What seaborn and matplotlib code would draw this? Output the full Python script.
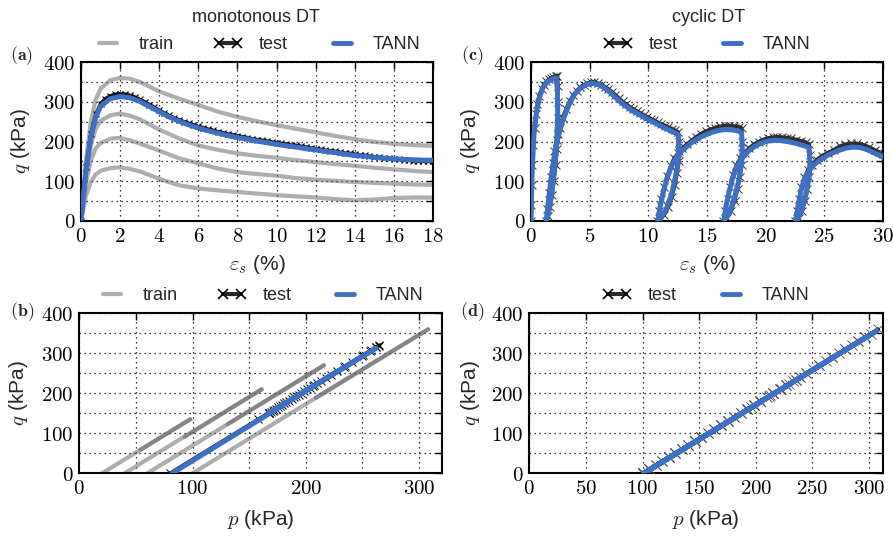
import matplotlib
matplotlib.use("Agg")
import matplotlib.pyplot as plt
from matplotlib.lines import Line2D
from matplotlib.ticker import MultipleLocator, FuncFormatter
import seaborn as sns

sns.set_theme(style="white")
plt.rcParams["font.family"] = ["Liberation Sans", "DejaVu Sans"]
plt.rcParams["mathtext.fontset"] = "cm"

# ---------------------------------------------------------------- data
# (a) monotonous drained tests: q (kPa) against shear strain (%)
eps_train = [0, 0.25, 0.5, 0.75, 1, 1.5, 2, 2.5, 3, 4, 5, 6, 7, 8, 9, 10,
             11, 12, 13, 14, 15, 16, 17, 18]
q_train_1 = [0, 150, 250, 305, 333, 354, 360, 358, 350, 326, 308, 292, 275,
             262, 251, 241, 232, 223, 214, 206, 199, 194, 191, 189]
q_train_2 = [0, 118, 190, 232, 252, 266, 270, 265, 256, 230, 208, 190, 179,
             170, 164, 159, 153, 148, 143, 139, 134, 130, 126, 123]
q_train_3 = [0, 95, 152, 182, 196, 207, 209, 203, 195, 177, 158, 145, 132,
             123, 118, 114, 108, 104, 101, 98, 96, 94, 92, 91]
q_train_4 = [0, 62, 98, 117, 126, 133, 135, 131, 125, 106, 90, 82, 77, 73,
             69, 65, 62, 59, 55, 52, 54, 58, 59, 59]

eps_test = [0, 0.25, 0.5, 0.75, 1.0, 1.25, 1.5, 1.75, 2.0, 2.25, 2.5, 2.75,
            3.0, 3.25, 3.5, 3.75, 4.0, 4.25, 4.5, 4.75, 5.0, 5.25, 5.5,
            5.75, 6.0, 6.25, 6.5, 6.75, 7.0, 7.25, 7.5, 7.75, 8.0, 8.25,
            8.5, 8.75, 9.0, 9.25, 9.5, 9.75, 10.0, 10.25, 10.5, 10.75,
            11.0, 11.25, 11.5, 11.75, 12.0, 12.25, 12.5, 12.75, 13.0,
            13.25, 13.5, 13.75, 14.0, 14.25, 14.5, 14.75, 15.0, 15.25,
            15.5, 15.75, 16.0, 16.25, 16.5, 16.75, 17.0, 17.25, 17.5,
            17.75, 18.0]
q_test = [0, 135, 220, 268, 295, 308, 315, 319, 320, 319, 316, 312, 306,
          300, 293, 286, 279, 272, 266, 260, 255, 250, 246, 242, 238, 235,
          231, 228, 225, 222, 219, 217, 214, 212, 210, 207, 205, 203, 201,
          199, 197, 195, 193, 191, 190, 188, 186, 184, 182, 180, 178, 177,
          175, 173, 171, 170, 168, 166, 165, 163, 162, 160, 159, 158, 157,
          155, 154, 153, 152, 152, 151, 151, 151]

eps_tann = [0, 0.25, 0.5, 0.75, 1.0, 1.5, 2.0, 2.5, 3.0, 3.5, 4.0, 4.5, 5.0,
            5.5, 6.0, 6.5, 7.0, 7.5, 8.0, 8.5, 9.0, 9.5, 10.0, 10.5, 11.0,
            11.5, 12.0, 12.5, 13.0, 13.5, 14.0, 14.5, 15.0, 15.5, 16.0,
            16.5, 17.0, 17.5, 18.0]
q_tann = [0, 125, 210, 260, 288, 308, 313, 310, 301, 288, 275, 262, 251,
          242, 234, 227, 221, 215, 210, 206, 201, 197, 193, 189, 186, 182,
          179, 175, 172, 168, 165, 163, 160, 158, 156, 155, 154, 153, 153]

# (b) stress paths p-q (kPa): start, peak, residual of each training test
p_train_paths = [[100, 308, 209], [60, 216, 131], [40, 161, 93], [20, 98, 54]]
q_train_paths = [[0, 360, 189], [0, 270, 123], [0, 210, 91], [0, 135, 59]]

p_test_b = [80, 157.9, 207.0, 234.7, 250.3, 257.8, 261.9, 264.2, 264.8,
            262.4, 256.7, 249.2, 241.1, 233.6, 227.2, 222.0, 217.4, 213.4,
            209.9, 206.4, 203.6, 201.2, 198.4, 196.1, 193.7, 191.4, 189.7,
            187.4, 185.1, 182.8, 181.0, 178.7, 177.0, 175.3, 173.5, 171.8,
            170.6, 168.9, 167.8, 167.2, 167.2]
q_test_b = [0, 135, 220, 268, 295, 308, 315, 319, 320, 316, 306, 293, 279,
            266, 255, 246, 238, 231, 225, 219, 214, 210, 205, 201, 197, 193,
            190, 186, 182, 178, 175, 171, 168, 165, 162, 159, 157, 154, 152,
            151, 151]

p_tann_b = [82, 262, 168]
q_tann_b = [0, 313, 153]

# (c) cyclic drained test: q (kPa) against shear strain (%)
eps_cyc_test = [
    0.00, 0.03, 0.07, 0.12, 0.2, 0.3, 0.42, 0.55, 0.7, 0.9, 1.1, 1.3, 1.5,
    1.7, 1.9, 2.1, 2.25,
    2.3, 2.32, 2.33, 2.3, 2.22, 2.1, 1.95, 1.8, 1.62, 1.45, 1.3,
    1.4, 1.55, 1.7, 1.85, 2.0, 2.2, 2.45, 2.7, 3.0, 3.3, 3.6, 3.9, 4.2, 4.5,
    4.8, 5.1, 5.4, 5.7, 6.0, 6.3, 6.6, 6.9, 7.2, 7.5, 7.8, 8.1, 8.4, 8.7,
    9.0, 9.3, 9.6, 9.9, 10.2, 10.5, 10.8, 11.1, 11.4, 11.7, 12.0, 12.3, 12.55,
    12.62, 12.65, 12.6, 12.45, 12.25, 12.0, 11.7, 11.35, 11.0, 10.75,
    10.9, 11.1, 11.35, 11.6, 11.9, 12.2, 12.55, 12.9, 13.3, 13.7, 14.1, 14.5,
    14.9, 15.3, 15.7, 16.1, 16.5, 16.9, 17.3, 17.7, 17.95,
    18.0, 18.02, 17.95, 17.8, 17.6, 17.35, 17.05, 16.7, 16.4,
    16.55, 16.75, 16.95, 17.2, 17.5, 17.85, 18.2, 18.6, 19.0, 19.4, 19.8,
    20.2, 20.6, 21.0, 21.4, 21.8, 22.2, 22.6, 23.0, 23.4, 23.7,
    23.78, 23.8, 23.7, 23.55, 23.35, 23.1, 22.8, 22.5,
    22.65, 22.85, 23.05, 23.3, 23.6, 23.95, 24.35, 24.8, 25.3, 25.8, 26.3,
    26.8, 27.3, 27.8, 28.3, 28.8, 29.3, 29.7, 30.0]
q_cyc_test = [
    0, 40, 90, 140, 190, 235, 270, 295, 315, 332, 343, 351, 356,
    360, 363, 365, 366,
    340, 300, 260, 220, 180, 140, 100, 65, 35, 12, 0,
    30, 70, 110, 145, 175, 205, 235, 260, 283, 302, 317, 328, 337, 343,
    347, 349, 349, 347, 343, 338, 332, 325, 317, 309, 301, 294, 288, 282,
    277, 272, 267, 262, 257, 253, 248, 244, 240, 236, 232, 228, 224,
    200, 175, 150, 120, 90, 60, 35, 15, 4, 0,
    25, 55, 85, 112, 138, 158, 172, 183, 194, 203, 212, 220,
    226, 231, 235, 238, 240, 240, 239, 237, 234,
    200, 170, 140, 110, 80, 50, 25, 8, 0,
    25, 55, 85, 115, 140, 158, 172, 184, 193, 200, 205,
    209, 211, 212, 211, 210, 208, 205, 202, 198, 194,
    165, 140, 110, 80, 50, 25, 8, 0,
    25, 55, 85, 110, 128, 142, 154, 164, 172, 179, 188,
    193, 195, 195, 192, 186, 179, 173, 168]

eps_cyc_tann = [
    0, 0.05, 0.12, 0.25, 0.45, 0.7, 1.0, 1.4, 1.8, 2.15,
    2.25, 2.27, 2.2, 2.0, 1.75, 1.5, 1.3,
    1.5, 1.75, 2.0, 2.3, 2.7, 3.2, 3.7, 4.2, 4.7, 5.2, 5.7, 6.2, 6.8, 7.4,
    8.0, 8.6, 9.2, 9.8, 10.4, 11.0, 11.6, 12.2, 12.55,
    12.6, 12.55, 12.3, 12.0, 11.6, 11.1, 10.8,
    11.0, 11.3, 11.6, 12.0, 12.5, 13.0, 13.6, 14.2, 14.8, 15.4, 16.0, 16.6,
    17.2, 17.7, 17.95,
    18.0, 17.95, 17.7, 17.3, 16.9, 16.45,
    16.6, 16.9, 17.2, 17.55, 18.0, 18.5, 19.0, 19.6, 20.2, 20.8, 21.4, 22.0,
    22.6, 23.2, 23.7,
    23.78, 23.7, 23.45, 23.1, 22.75, 22.55,
    22.75, 23.0, 23.3, 23.65, 24.1, 24.7, 25.4, 26.1, 26.8, 27.4, 28.0, 28.6,
    29.2, 29.7, 30.0]
q_cyc_tann = [
    0, 70, 140, 215, 270, 310, 335, 350, 357, 360,
    330, 270, 200, 130, 65, 20, 0,
    55, 115, 165, 210, 252, 290, 318, 334, 343, 346, 344, 336, 322, 305,
    290, 278, 268, 258, 249, 240, 231, 223, 217,
    185, 150, 110, 70, 35, 8, 0,
    35, 75, 108, 140, 165, 180, 195, 207, 216, 223, 228, 230,
    229, 226, 222,
    185, 145, 100, 55, 20, 0,
    35, 75, 110, 137, 158, 175, 186, 196, 201, 203, 202, 199,
    195, 190, 185,
    150, 110, 70, 30, 5, 0,
    35, 75, 105, 125, 141, 155, 167, 176, 183, 186, 185, 180,
    172, 165, 160]

# (d) cyclic stress path p-q (kPa)
p_cyc_test = [
    100, 111.5, 123.1, 134.6, 146.2, 157.7, 169.3, 180.8, 192.4, 203.9,
    215.5, 227.0, 238.6, 250.1, 261.7, 273.2, 284.8, 296.3, 307.9,
    290.5, 267.4, 244.3, 221.3, 198.2, 175.1, 152.0, 128.9, 105.8, 100,
    117.3, 140.4, 163.5, 186.6, 209.7, 232.8, 255.9, 279.0, 296.3, 301.5,
    290.5, 279.0, 267.4, 255.9, 244.3, 235.1, 229.3,
    215.5, 192.4, 169.3, 146.2, 123.1, 100,
    111.5, 134.6, 157.7, 180.8, 203.9, 227.0, 238.6, 235.1,
    221.3, 198.2, 175.1, 152.0, 128.9, 105.8, 100,
    123.1, 146.2, 169.3, 192.4, 215.5, 222.4, 212.0,
    186.6, 163.5, 140.4, 117.3, 100,
    105.8, 128.9, 152.0, 175.1, 198.2, 212.6, 203.9, 195.3]
q_cyc_test_d = [
    0, 20, 40, 60, 80, 100, 120, 140, 160, 180,
    200, 220, 240, 260, 280, 300, 320, 340, 360,
    330, 290, 250, 210, 170, 130, 90, 50, 10, 0,
    30, 70, 110, 150, 190, 230, 270, 310, 340, 349,
    330, 310, 290, 270, 250, 234, 224,
    200, 160, 120, 80, 40, 0,
    20, 60, 100, 140, 180, 220, 240, 234,
    210, 170, 130, 90, 50, 10, 0,
    40, 80, 120, 160, 200, 212, 194,
    150, 110, 70, 30, 0,
    10, 50, 90, 130, 170, 195, 180, 165]

p_cyc_tann = [101, 306.6, 101, 300.8, 226.3, 101, 233.8, 229.2, 101, 218.2,
              207.8, 101, 208.4, 193.4]
q_cyc_tann_d = [0, 356, 0, 346, 217, 0, 230, 222, 0, 203, 185, 0, 186, 160]

# ---------------------------------------------------------------- styles
C_TRAIN = "#5e5e5e"
TRAIN_ALPHA = 0.5
C_TRAIN_LEG = "#afafaf"
C_TEST = "#2a2a2a"
C_TANN = "#3d70c2"

W, H = 893, 536
fig = plt.figure(figsize=(W / 100, H / 100), dpi=100)


def px_axes(left, top, right, bottom):
    return fig.add_axes([left / W, 1 - bottom / H, (right - left) / W,
                         (bottom - top) / H])


ax_a = px_axes(81, 62, 433, 221)
ax_c = px_axes(531, 62, 883, 221)
ax_b = px_axes(79.3, 313.3, 441.7, 473.3)
ax_d = px_axes(529.3, 313.3, 882.7, 473.3)


def line(ax, x, y, **kw):
    sns.lineplot(x=x, y=y, ax=ax, sort=False, estimator=None, legend=False,
                 **kw)


def train_line(ax, x, y):
    line(ax, x, y, color=C_TRAIN, alpha=TRAIN_ALPHA, lw=3.0, zorder=2,
         solid_capstyle="round")


def test_line(ax, x, y, ms=5, mew=0.8, mec="black"):
    line(ax, x, y, color=C_TEST, lw=2.6, marker="x", ms=ms, mew=mew,
         mec=mec, zorder=3)


def tann_line(ax, x, y):
    line(ax, x, y, color=C_TANN, lw=3.6, zorder=4, solid_capstyle="round")


# (a)
for qt in (q_train_1, q_train_2, q_train_3, q_train_4):
    train_line(ax_a, eps_train, qt)
test_line(ax_a, eps_test, q_test)
tann_line(ax_a, eps_tann, q_tann)

# (b): loading and softening legs drawn separately
for pp, qq in zip(p_train_paths, q_train_paths):
    train_line(ax_b, pp[:2], qq[:2])
    train_line(ax_b, pp[1:], qq[1:])
test_line(ax_b, p_test_b, q_test_b, ms=6, mew=0.7)
tann_line(ax_b, p_tann_b, q_tann_b)

# (c)
test_line(ax_c, eps_cyc_test, q_cyc_test, ms=5.5, mew=0.7, mec="#333333")
tann_line(ax_c, eps_cyc_tann, q_cyc_tann)

# (d)
test_line(ax_d, p_cyc_test, q_cyc_test_d, ms=6.5, mew=0.6, mec="#444444")
tann_line(ax_d, p_cyc_tann, q_cyc_tann_d)


def labelled_every(step):
    def f(v, pos):
        r = v / step
        return f"${v:.0f}$" if abs(r - round(r)) < 1e-6 else ""
    return FuncFormatter(f)


def style(ax, xlim, xstep, xlabstep, xlabel):
    ax.set_xlim(*xlim)
    ax.set_ylim(0, 400)
    ax.xaxis.set_major_locator(MultipleLocator(xstep))
    ax.xaxis.set_major_formatter(labelled_every(xlabstep))
    ax.yaxis.set_major_locator(MultipleLocator(50))
    ax.yaxis.set_major_formatter(labelled_every(100))
    ax.grid(True, color="black", ls=(0, (1, 3)), lw=0.9)
    ax.set_axisbelow(True)
    for s in ax.spines.values():
        s.set_color("black")
        s.set_linewidth(1.5)
    ax.tick_params(direction="in", length=5, width=1.0, colors="black",
                   labelsize=15, top=True, right=True, pad=4)
    ax.set_xlabel(xlabel, fontsize=15)
    ax.set_ylabel(r"$q$ (kPa)", fontsize=15)


style(ax_a, (0, 18), 2, 2, r"$\varepsilon_s$ (%)")
style(ax_c, (0, 30), 5, 5, r"$\varepsilon_s$ (%)")
style(ax_b, (0, 320), 50, 100, r"$p$ (kPa)")
style(ax_d, (0, 312), 50, 50, r"$p$ (kPa)")

for ax in (ax_a, ax_c):
    ax.yaxis.set_label_coords(-0.138, 0.5)
    ax.xaxis.set_label_coords(0.5, -0.2)
for ax in (ax_b, ax_d):
    ax.yaxis.set_label_coords(-0.135, 0.5)
    ax.xaxis.set_label_coords(0.5, -0.215)

# legends
h_train = Line2D([], [], color=C_TRAIN_LEG, lw=3.0)
h_test = Line2D([], [], color=C_TEST, lw=3.0, marker="x", ms=7, mew=1.2,
                mec="black")
h_tann = Line2D([], [], color=C_TANN, lw=3.5)

leg_kw = dict(loc="lower center", bbox_to_anchor=(0.5, 1.0), frameon=False,
              fontsize=13, handlelength=1.6, handletextpad=0.9,
              columnspacing=2.2, numpoints=2, borderaxespad=0.1)
for ax in (ax_a, ax_b):
    ax.legend([h_train, h_test, h_tann], ["train", "test", "TANN"], ncol=3,
              **leg_kw)
for ax in (ax_c, ax_d):
    ax.legend([h_test, h_tann], ["test", "TANN"], ncol=2, **leg_kw)

# column titles and panel tags
fig.text(256 / W, 1 - 18 / H, "monotonous DT", ha="center", va="center",
         fontsize=13)
fig.text(709 / W, 1 - 18 / H, "cyclic DT", ha="center", va="center",
         fontsize=13)
for tag, x, y in (("a", 22, 56), ("c", 472, 56), ("b", 22, 312),
                  ("d", 472, 312)):
    fig.text(x / W, 1 - y / H, r"$\mathbf{(%s)}$" % tag, ha="center",
             va="center", fontsize=13)

fig.savefig("out.png", dpi=100)
